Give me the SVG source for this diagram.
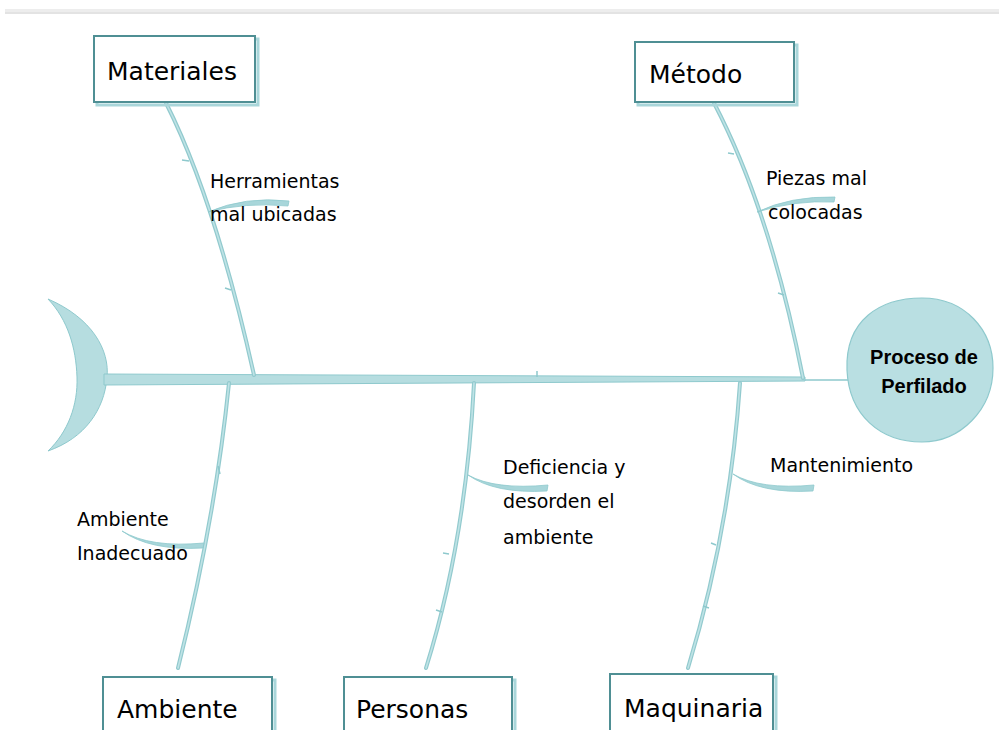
<svg xmlns="http://www.w3.org/2000/svg" width="999" height="730" viewBox="0 0 999 730">
<style>
.box{fill:#ffffff;stroke:#4f8f94;stroke-width:2}
.shadow{fill:none;stroke:#a9d6da;stroke-width:3}
.lbl{font-family:"DejaVu Sans",sans-serif;font-size:25px;fill:#000}
.cause{font-family:"DejaVu Sans",sans-serif;font-size:19px;fill:#000}
.bone{fill:none;stroke:#92cace;stroke-width:4;stroke-linecap:round}
.bonein{fill:none;stroke:#bfe3e6;stroke-width:1.6;stroke-linecap:round}
.sub{fill:#a8d6da;stroke:#8ec9cd;stroke-width:0.8}
.tick{fill:none;stroke:#8ec9cd;stroke-width:1.5}
.head{font-family:"Liberation Sans",Arial,sans-serif;font-size:20px;font-weight:bold;fill:#000}
</style>
<rect x="5" y="9" width="994" height="5" fill="#ededed"/>
<line x1="5" y1="13" x2="999" y2="13" stroke="#d9d9d9" stroke-width="1"/>

<g id="connectors">
  <path d="M48,299 C92,318 110,350 107,378 C104,410 85,438 48,451 C68,432 78,405 77,377 C76,348 68,320 48,299 Z" fill="#b6dde0" stroke="#8ec9cd" stroke-width="1"/>
  <path d="M104,374 L805,377 L805,381 L104,385 Z" fill="#b6dde0" stroke="#8ec9cd" stroke-width="1"/>
  <line x1="805" y1="380" x2="849" y2="380" stroke="#8ec9cd" stroke-width="1.5"/>
  <path class="bone" d="M166,103 Q215,200 254,375"/>
  <path class="bonein" d="M166,103 Q215,200 254,375"/>
  <path class="bone" d="M714,103 Q770,210 803,378"/>
  <path class="bonein" d="M714,103 Q770,210 803,378"/>
  <path class="bone" d="M229,383 Q215,520 178,668"/>
  <path class="bonein" d="M229,383 Q215,520 178,668"/>
  <path class="bone" d="M474,383 Q466,540 426,668"/>
  <path class="bonein" d="M474,383 Q466,540 426,668"/>
  <path class="bone" d="M740,383 Q730,530 688,668"/>
  <path class="bonein" d="M740,383 Q730,530 688,668"/>
  <path class="sub" d="M208,212 Q245,196 289,201 L288,206 Q245,202 208,212 Z"/>
  <path class="sub" d="M757,212 Q790,196 835,197 L834,202 Q795,200 757,212 Z"/>
  <path class="sub" d="M122,531 Q150,548 204,543 L203,548 Q150,551 122,531 Z"/>
  <path class="sub" d="M468,475 Q495,490 548,485 L547,491 Q495,494 468,475 Z"/>
  <path class="sub" d="M733,474 Q760,490 814,485 L813,491 Q760,494 733,474 Z"/>
  <path class="tick" d="M182,160 L189,161 M225,288 L231,290 M728,153 L734,154 M778,293 L784,295 M218,466 L220,474 M443,553 L449,554 M436,610 L442,612 M711,543 L716,545 M703,606 L709,608 M537,371 L537,377"/>
</g>

<g id="materiales">
  <rect class="shadow" x="97" y="39" width="161" height="66"/>
  <rect class="box" x="94" y="36" width="161" height="66"/>
  <text class="lbl" x="107" y="80">Materiales</text>
</g>
<g id="metodo">
  <rect class="shadow" x="638" y="45" width="159" height="60"/>
  <rect class="box" x="635" y="42" width="159" height="60"/>
  <text class="lbl" x="649" y="83">Método</text>
</g>
<g id="ambiente">
  <rect class="shadow" x="106" y="680" width="169" height="60"/>
  <rect class="box" x="103" y="677" width="169" height="60"/>
  <text class="lbl" x="117" y="718">Ambiente</text>
</g>
<g id="personas">
  <rect class="shadow" x="347" y="680" width="168" height="60"/>
  <rect class="box" x="344" y="677" width="168" height="60"/>
  <text class="lbl" x="356" y="718">Personas</text>
</g>
<g id="maquinaria">
  <rect class="shadow" x="613" y="677" width="163" height="60"/>
  <rect class="box" x="610" y="674" width="163" height="60"/>
  <text class="lbl" x="624" y="717">Maquinaria</text>
</g>
<g id="proceso">
  <path d="M847,370 C845,320 880,298 922,298 C965,298 993,330 993,368 C993,410 960,442 922,442 C880,442 849,415 847,370 Z" fill="#b9dfe2" stroke="#8ec9cd" stroke-width="1.2"/>
  <text class="head" x="924" y="364" text-anchor="middle">Proceso de</text>
  <text class="head" x="924" y="393" text-anchor="middle">Perfilado</text>
</g>
<g id="causas">
  <text class="cause" x="210" y="188">Herramientas</text>
  <text class="cause" x="210" y="221">mal ubicadas</text>
  <text class="cause" x="766" y="185">Piezas mal</text>
  <text class="cause" x="768" y="219">colocadas</text>
  <text class="cause" x="77" y="526">Ambiente</text>
  <text class="cause" x="77" y="560">Inadecuado</text>
  <text class="cause" x="503" y="474">Deficiencia y</text>
  <text class="cause" x="503" y="508">desorden el</text>
  <text class="cause" x="503" y="544">ambiente</text>
  <text class="cause" x="770" y="472">Mantenimiento</text>
</g>
</svg>
